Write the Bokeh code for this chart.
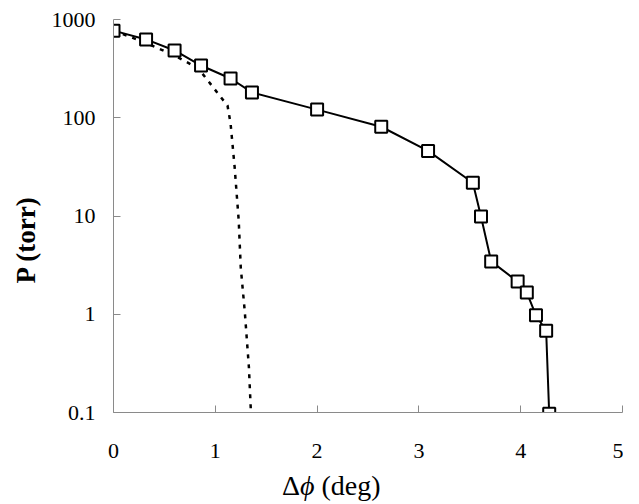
from bokeh.plotting import figure
from bokeh.models import Range1d, FixedTicker, ColumnDataSource, Title, Div
from bokeh.layouts import column
from bokeh.embed import file_html
from bokeh.resources import INLINE

# measured data (squares, solid line)
x_meas = [0.0, 0.32, 0.60, 0.86, 1.15, 1.36, 2.00, 2.63, 3.09, 3.53, 3.61, 3.71, 3.97, 4.06, 4.15, 4.25, 4.28]
p_meas = [770, 627, 484, 340, 251, 181, 121, 81, 46, 21.8, 9.9, 3.45, 2.15, 1.66, 0.975, 0.68, 0.097]

# dotted curve
x_calc = [0.0, 0.30, 0.60, 0.83, 0.94, 1.04, 1.12, 1.15, 1.19, 1.23, 1.25, 1.29, 1.33, 1.35]
p_calc = [773, 588, 430, 320, 230, 169, 133, 87.5, 31.4, 9.0, 3.0, 1.05, 0.29, 0.1]

x_ticks = [0, 1, 2, 3, 4, 5]
y_ticks = [0.1, 1, 10, 100, 1000]
y_tick_labels = ["0.1", "1", "10", "100", "1000"]

x_label_html = "\u0394<i>\u03d5</i>\u00a0(deg)"
y_label = "P (torr)"

SERIF = "Liberation Serif"

p = figure(width=623, height=466, y_axis_type="log",
           x_range=Range1d(0, 5), y_range=Range1d(0.1, 1000),
           output_backend="svg", toolbar_location=None,
           min_border_left=112, min_border_right=1,
           min_border_top=19, min_border_bottom=54)
p.outline_line_color = None
p.grid.visible = False
p.background_fill_color = "white"
p.border_fill_color = "white"

src_calc = ColumnDataSource(dict(x=x_calc, y=p_calc))
src_meas = ColumnDataSource(dict(x=x_meas, y=p_meas))

p.line("x", "y", source=src_calc, line_color="black", line_width=2.5, line_dash="4 6")
p.line("x", "y", source=src_meas, line_color="black", line_width=2)
p.scatter("x", "y", source=src_meas, marker="square", size=12,
          fill_color="white", line_color="black", line_width=2)

for ax in (p.xaxis[0], p.yaxis[0]):
    ax.axis_line_color = "#8a8a8a"
    ax.axis_line_width = 1
    ax.major_tick_line_color = "#8a8a8a"
    ax.major_tick_in = 7
    ax.major_tick_out = 0
    ax.minor_tick_line_color = None
    ax.major_label_text_font = SERIF
    ax.major_label_text_font_size = "22px"
    ax.major_label_text_color = "black"

p.xaxis.ticker = FixedTicker(ticks=x_ticks)
p.xaxis.major_label_standoff = 31
p.yaxis.ticker = FixedTicker(ticks=y_ticks)
p.yaxis.major_label_overrides = {t: l for t, l in zip(y_ticks, y_tick_labels)}
p.yaxis.major_label_standoff = 18

p.add_layout(Title(text=y_label, text_font=SERIF, text_font_style="bold",
                   text_font_size="27px", text_color="black",
                   align="left", offset=129, standoff=16), "left")

xlabel = Div(text=x_label_html, width=623, height=34, margin=(0, 0, 0, 0),
             styles={"font-family": "'Liberation Serif', serif", "font-size": "28px",
                     "line-height": "28px", "color": "black",
                     "padding-top": "6px", "padding-left": "282px",
                     "box-sizing": "border-box", "white-space": "nowrap"})

layout = column(p, xlabel, spacing=0)

open("out.html", "w").write(file_html(layout, INLINE))
